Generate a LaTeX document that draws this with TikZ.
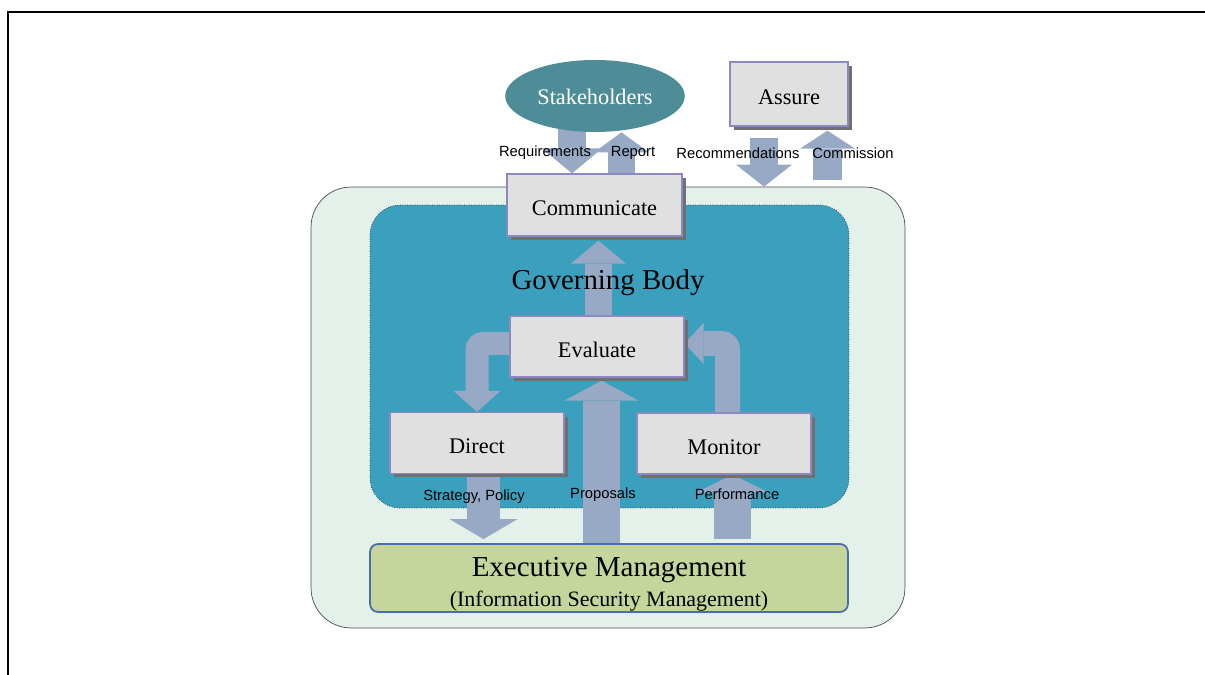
\documentclass[tikz,border=0pt]{standalone}
\usepackage{fontspec}
\setmainfont{Liberation Serif}
\newfontfamily\flowfont{Liberation Sans}
\usepackage{tikz}
\usetikzlibrary{shapes,arrows.meta,shadows}
\pgfdeclarelayer{bg}
\pgfdeclarelayer{flows}
\pgfsetlayers{bg,flows,main}
\definecolor{outerfill}{HTML}{E4F1EB}
\definecolor{innerfill}{HTML}{3AA0BE}
\definecolor{boxfill}{HTML}{E0E0E0}
\definecolor{boxedge}{HTML}{8A8AC0}
\definecolor{stakefill}{HTML}{4E8D98}
\definecolor{flowblue}{HTML}{97A9C4}
\definecolor{execfill}{HTML}{C4D69B}
\definecolor{execedge}{HTML}{4C6EA8}
\definecolor{shadowgray}{HTML}{707070}

\begin{document}
\begin{tikzpicture}[x=0.02cm,y=-0.02cm]
      \tikzset{procbox/.style={draw=boxedge,
          fill=boxfill,
          line width=0.7pt,
          minimum width=3.48cm,
          minimum height=1.22cm,
          text height=12.4pt,
          text depth=0pt,
          font=\fontsize{12.7}{15}\selectfont,
          drop shadow={shadow xshift=0.08cm, shadow yshift=-0.08cm,
            opacity=1, fill=shadowgray}},
        flow/.style n args={3}{draw=flowblue,
          line width=#1,
          -{Triangle[length=#3, width=#2, line width=0pt]}},
        flowlabel/.style={inner sep=0pt,
          font=\flowfont\fontsize{8.4}{10}\selectfont}
      }
      \useasboundingbox (0,0) rectangle (1205,675);
      \draw [line width=0.75pt] (8,675)--(8,12)--(1205,12);
      \begin{pgfonlayer}{bg}
        \node [draw=black!70, fill=outerfill, rounded corners=0.8cm,
          minimum width=11.88cm, minimum height=8.82cm, inner sep=0pt]
          (outer) at (608,407.5) {};
        \node [draw=black!80, densely dotted, fill=innerfill, rounded corners=0.6cm,
          minimum width=9.58cm, minimum height=6.06cm, inner sep=0pt]
          (inner) at (609.5,356.5) {};
      \end{pgfonlayer}
      \node [ellipse, fill=stakefill, text=white, minimum width=3.5cm,
        minimum height=1.44cm, text height=10pt, text depth=0pt,
        font=\fontsize{12.7}{15}\selectfont]
        (stake) at (595,96) {Stakeholders};
      \node [procbox, minimum width=2.36cm, minimum height=1.28cm] (assure) at (789,94) {Assure};
      \node [procbox, minimum width=3.5cm, minimum height=1.24cm] (comm) at (594.5,205) {Communicate};
      \node [font=\fontsize{16.4}{19}\selectfont] (gov) at (608,283) {Governing Body};
      \node [procbox] (eval) at (597,346.5) {Evaluate};
      \node [procbox] (direct) at (477,443) {Direct};
      \node [procbox] (monitor) at (724,443.5) {Monitor};
      \node [draw=execedge, fill=execfill, line width=1pt, rounded corners=0.16cm,
        minimum width=9.56cm, minimum height=1.36cm] (exec) at (609,578) {};
      \node [align=center, font=\fontsize{16.5}{17}\selectfont] (execlab) at (609,584)
        {Executive Management\\{\fontsize{12.5}{15}\selectfont (Information Security Management)}};
      \node [flowlabel] (reqlab) at (545,153) {Requirements};
      \node [flowlabel] (replab) at (633,153) {Report};
      \node [flowlabel] (reclab) at (738,153) {Recommendations};
      \node [flowlabel] (comlab) at (853,153) {Commission};
      \node [flowlabel] (stratlab) at (474,497) {Strategy, Policy};
      \node [flowlabel] (proplab) at (603,495) {Proposals};
      \node [flowlabel] (perflab) at (737,494) {Performance};
      \begin{pgfonlayer}{flows}
        \draw [flow={0.56cm}{1.2cm}{0.5cm}] ([xshift=-0.45cm]comm.north |- stake.center) -- ([xshift=-0.45cm]comm.north);
        \draw [flow={0.54cm}{1.1cm}{0.4cm}] ([xshift=0.54cm]comm.north) -- ([xshift=0.54cm]comm.north |- stake.south);
        \draw [flow={0.56cm}{1.12cm}{0.44cm}] ([xshift=-0.5cm,yshift=-0.22cm]assure.south) -- ([xshift=-0.5cm]assure.south |- outer.north);
        \draw [flow={0.58cm}{1.1cm}{0.36cm}, shorten >=0.08cm] ([xshift=0.77cm,yshift=0.14cm]assure.south |- outer.north) -- ([xshift=0.77cm]assure.south);
        \draw [flow={0.54cm}{1.1cm}{0.46cm}, shorten >=0.08cm] ([xshift=0.03cm]eval.north) -- ([xshift=0.03cm]eval.north |- comm.south);
        \draw [flow={0.46cm}{0.94cm}{0.42cm}, rounded corners=0.12cm] ([xshift=0.3cm,yshift=0.06cm]eval.west) -| (direct.north);
        \draw [flow={0.5cm}{0.82cm}{0.38cm}, rounded corners=0.12cm] ([xshift=0.07cm]monitor.north) |- ([yshift=0.06cm]eval.east);
        \draw [flow={0.74cm}{1.48cm}{0.4cm}, shorten >=0.06cm] ([xshift=0.09cm]eval.south |- exec.north) -- ([xshift=0.09cm]eval.south);
        \draw [flow={0.74cm}{1.46cm}{0.36cm}] ([xshift=0.17cm,yshift=0.08cm]monitor.south |- exec.north) -- ([xshift=0.17cm]monitor.south);
        \draw [flow={0.66cm}{1.36cm}{0.4cm}, shorten >=0.08cm] ([xshift=0.13cm]direct.south) -- ([xshift=0.13cm]direct.south |- exec.north);
      \end{pgfonlayer}
    \end{tikzpicture}
\end{document}
